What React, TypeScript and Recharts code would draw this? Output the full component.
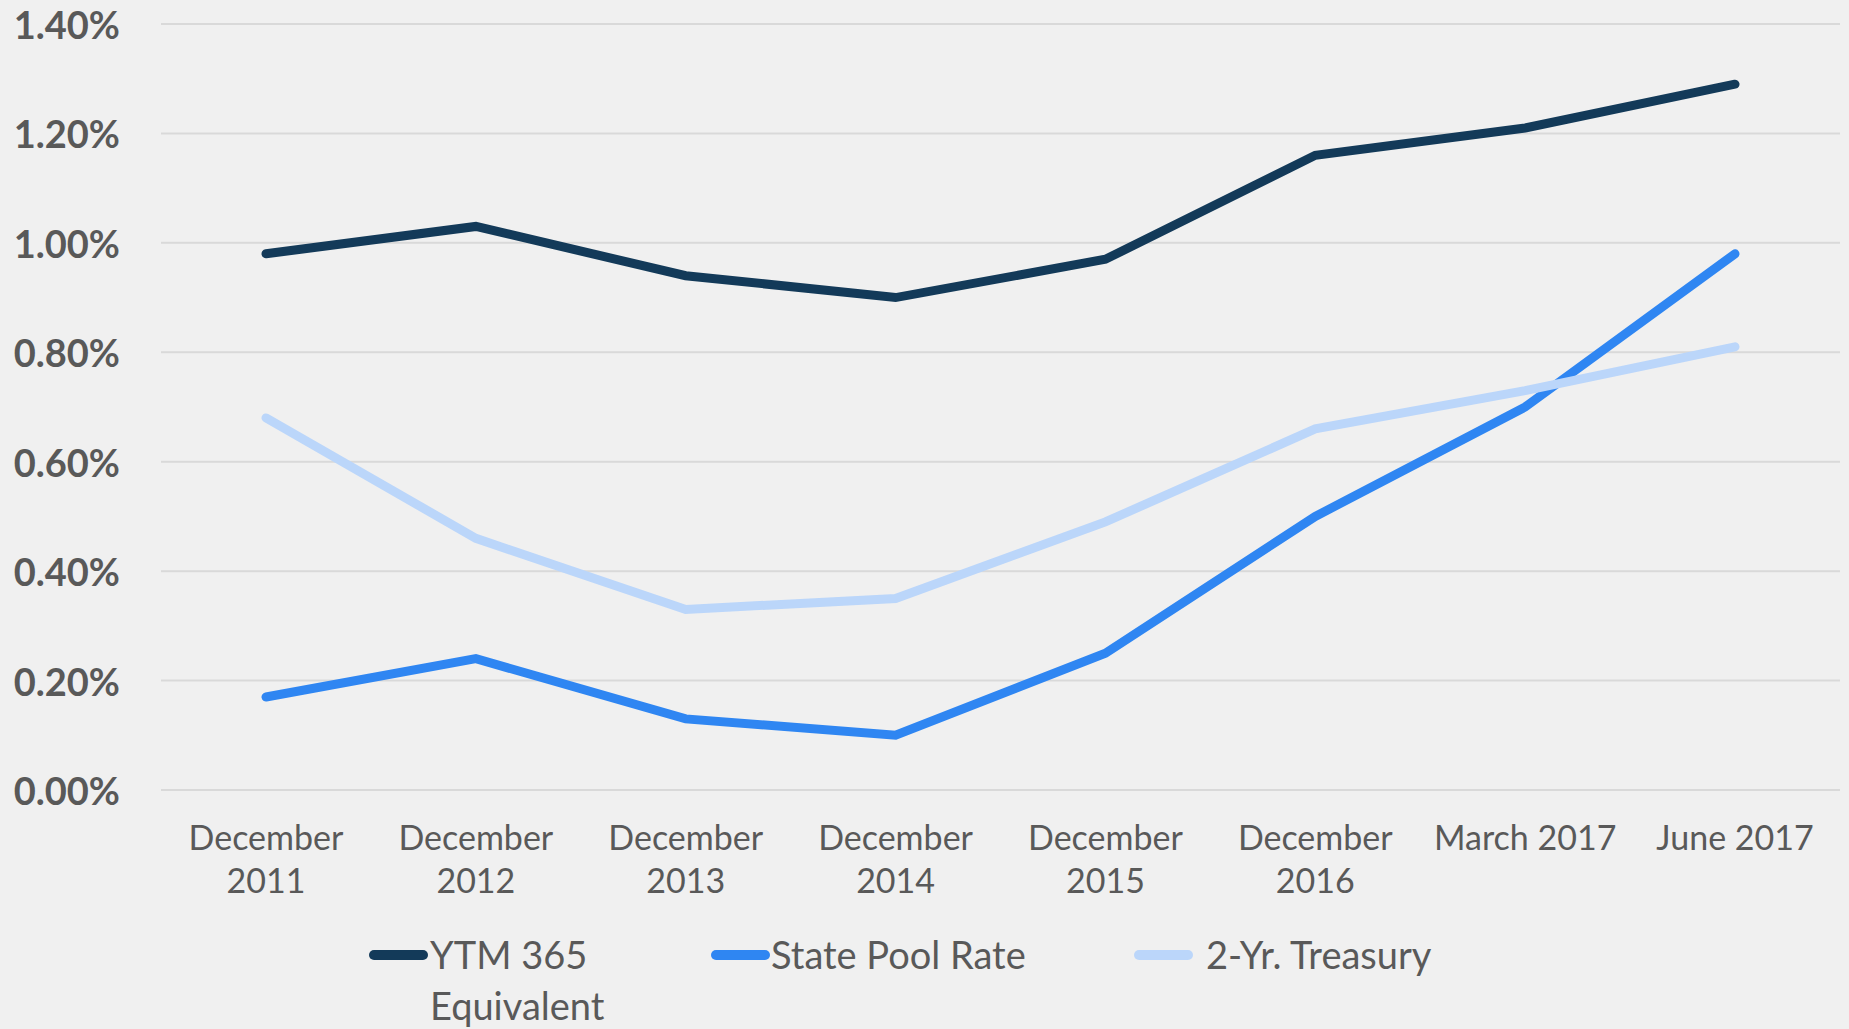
import React from 'react'
import { LineChart, Line, XAxis, YAxis, CartesianGrid, Legend } from 'recharts'

const periods = [
  'December 2011',
  'December 2012',
  'December 2013',
  'December 2014',
  'December 2015',
  'December 2016',
  'March 2017',
  'June 2017'
]
const ytm365 = [0.98, 1.03, 0.94, 0.9, 0.97, 1.16, 1.21, 1.29]
const statePool = [0.17, 0.24, 0.13, 0.1, 0.25, 0.5, 0.7, 0.98]
const treasury2yr = [0.68, 0.46, 0.33, 0.35, 0.49, 0.66, 0.73, 0.81]
const yTicks = [0, 0.2, 0.4, 0.6, 0.8, 1.0, 1.2, 1.4]

const series = [
  { key: 'ytm', name: 'YTM 365 Equivalent', color: '#133A59' },
  { key: 'pool', name: 'State Pool Rate', color: '#2F86F2' },
  { key: 'treasury', name: '2-Yr. Treasury', color: '#BBD6FA' }
]

const data = periods.map((period, i) => ({
  period,
  ytm: ytm365[i],
  pool: statePool[i],
  treasury: treasury2yr[i]
}))

const FONT = 'Lato, "Open Sans", sans-serif'
const TEXT = '#595959'

// December labels break onto two lines like the original
const XTick = (props: any) => {
  const { x, y, payload } = props
  const label: string = payload.value
  const lines = label.startsWith('December') ? label.split(' ') : [label]
  return (
    <text x={x} y={y} textAnchor="middle" fill={TEXT} fontFamily={FONT} fontSize={34}>
      {lines.map((l, i) => (
        <tspan key={i} x={x} dy={i === 0 ? 60 : 43}>{l}</tspan>
      ))}
    </text>
  )
}

const YTick = (props: any) => {
  const { x, y, payload } = props
  return (
    <text x={x} y={y} textAnchor="end" dominantBaseline="central" fill={TEXT}
      fontFamily={FONT} fontSize={38} fontWeight={700}>
      {payload.value.toFixed(2)}%
    </text>
  )
}

const legendPos = [
  { icon: 369, text: 430, width: 210 },
  { icon: 711, text: 771, width: 340 },
  { icon: 1134, text: 1206, width: 340 }
]

const renderLegend = () => (
  <div style={{ position: 'relative', width: 1849, height: 129, fontFamily: FONT }}>
    {series.map((s, i) => (
      <React.Fragment key={s.key}>
        <span style={{
          position: 'absolute', left: legendPos[i].icon, top: 50, width: 59, height: 10,
          borderRadius: 5, background: s.color
        }} />
        <span style={{
          position: 'absolute', left: legendPos[i].text, top: 29, width: legendPos[i].width,
          fontSize: 38, lineHeight: '51px', color: TEXT
        }}>{s.name}</span>
      </React.Fragment>
    ))}
  </div>
)

const App: React.FC = () => {
  return (
    <div style={{ position: 'absolute', left: 0, top: 0, width: 1849, height: 1029, background: '#F0F0F0' }}>
      <LineChart width={1849} height={1029} data={data} margin={{ top: 24, right: 9, bottom: 0, left: 0 }}>
        <CartesianGrid vertical={false} stroke="#D9D9D9" strokeWidth={2} />
        <XAxis dataKey="period" axisLine={false} tickLine={false} tickSize={0} tickMargin={0}
          height={110} interval={0} padding={{ left: 105, right: 105 }} tick={<XTick />} />
        <YAxis domain={[0, 1.4]} ticks={yTicks} axisLine={false} tickLine={false}
          tickSize={0} tickMargin={41} width={161} tick={<YTick />} />
        <Legend verticalAlign="bottom" content={renderLegend} />
        {series.map((s) => (
          <Line key={s.key} type="linear" dataKey={s.key} name={s.name} stroke={s.color}
            strokeWidth={9} strokeLinecap="round" dot={false} activeDot={false}
            isAnimationActive={false} />
        ))}
      </LineChart>
    </div>
  )
}

export default App
